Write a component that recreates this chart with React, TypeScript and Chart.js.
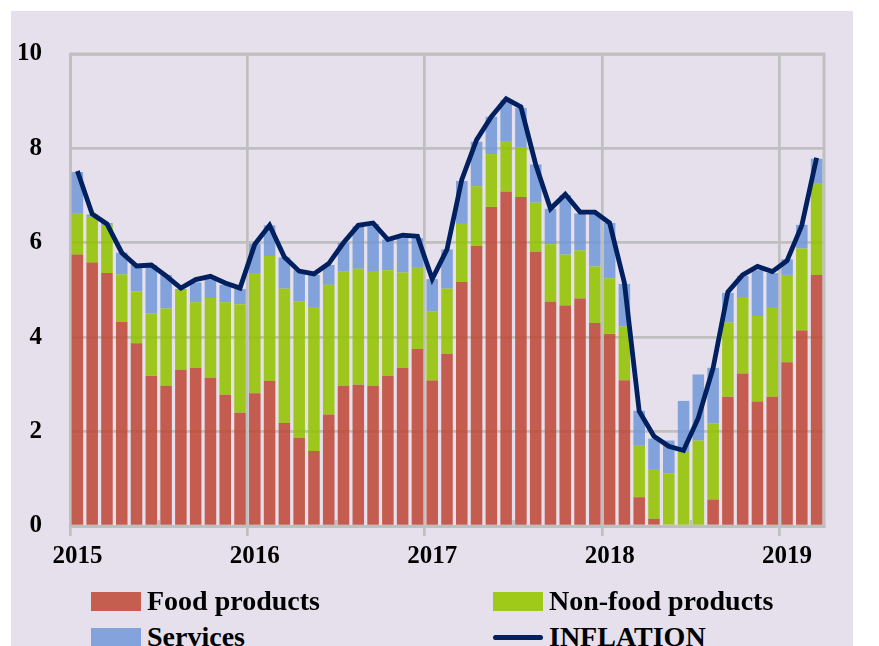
import React, { useEffect, useRef } from 'react';
import { Chart, registerables } from 'chart.js';

Chart.register(...registerables);

const months = [
  '2015-01','2015-02','2015-03','2015-04','2015-05','2015-06','2015-07','2015-08','2015-09','2015-10','2015-11','2015-12',
  '2016-01','2016-02','2016-03','2016-04','2016-05','2016-06','2016-07','2016-08','2016-09','2016-10','2016-11','2016-12',
  '2017-01','2017-02','2017-03','2017-04','2017-05','2017-06','2017-07','2017-08','2017-09','2017-10','2017-11','2017-12',
  '2018-01','2018-02','2018-03','2018-04','2018-05','2018-06','2018-07','2018-08','2018-09','2018-10','2018-11','2018-12',
  '2019-01','2019-02','2019-03',
];

const food = [
  5.75, 5.58, 5.36, 4.32, 3.87, 3.18, 2.97, 3.31, 3.35, 3.14, 2.78, 2.40,
  2.81, 3.07, 2.18, 1.87, 1.59, 2.36, 2.97, 2.99, 2.97, 3.18, 3.35, 3.75,
  3.08, 3.65, 5.17, 5.93, 6.76, 7.08, 6.97, 5.81, 4.75, 4.67, 4.82, 4.30,
  4.07, 3.09, 0.61, 0.15, -0.07, -0.07, -0.05, 0.56, 2.74, 3.23, 2.64, 2.74,
  3.47, 4.14, 5.32,
];

const nonFood = [
  0.88, 0.97, 1.02, 1.01, 1.10, 1.32, 1.64, 1.69, 1.39, 1.69, 1.96, 2.30,
  2.55, 2.65, 2.85, 2.89, 3.05, 2.75, 2.42, 2.46, 2.43, 2.24, 2.02, 1.72,
  1.47, 1.38, 1.23, 1.27, 1.12, 1.06, 1.05, 1.04, 1.22, 1.08, 1.02, 1.20,
  1.18, 1.14, 1.09, 1.04, 1.12, 1.57, 1.81, 1.61, 1.57, 1.62, 1.81, 1.88,
  1.85, 1.74, 1.93,
];

const services = [
  0.87, 0.05, 0.04, 0.46, 0.56, 1.03, 0.71, 0.02, 0.42, 0.40, 0.37, 0.32,
  0.62, 0.65, 0.66, 0.66, 0.68, 0.42, 0.61, 0.90, 1.00, 0.65, 0.79, 0.63,
  0.68, 0.83, 0.91, 0.94, 0.79, 0.88, 0.84, 0.81, 0.75, 1.26, 0.78, 1.11,
  1.17, 0.90, 0.74, 0.66, 0.69, 1.08, 1.40, 1.18, 0.63, 0.45, 0.97, 0.74,
  0.33, 0.50, 0.53,
];

const inflation = [
  7.52, 6.61, 6.40, 5.79, 5.51, 5.53, 5.30, 5.04, 5.22, 5.29, 5.15, 5.04,
  5.97, 6.37, 5.70, 5.40, 5.34, 5.56, 6.00, 6.37, 6.42, 6.07, 6.16, 6.14,
  5.23, 5.86, 7.34, 8.18, 8.67, 9.05, 8.88, 7.66, 6.72, 7.03, 6.65, 6.65,
  6.42, 5.15, 2.43, 1.90, 1.69, 1.60, 2.29, 3.35, 4.96, 5.32, 5.50, 5.39,
  5.62, 6.37, 7.80,
];

const yearLabels = ['2015', '2016', '2017', '2018', '2019'];
const seriesLabels = ['Food products', 'Non-food products', 'Services', 'INFLATION'];

const GRID = '#bfbfbf';
const BG = '#e5e0ec';
const RED_BAR = 'rgba(191,74,57,0.88)';
const GREEN_BAR = 'rgba(147,195,0,0.88)';
const BLUE_BAR = 'rgba(115,152,215,0.88)';
const RED = '#c65e4f';
const GREEN = '#9fca1a';
const BLUE = '#84a3dc';
const NAVY = '#002060';
const FONT = '"Liberation Serif", "Times New Roman", serif';

const framePlugin = {
  id: 'frame',
  beforeDatasetsDraw(chart: any) {
    const { ctx, chartArea, scales } = chart;
    ctx.save();
    ctx.strokeStyle = GRID;
    ctx.lineWidth = 3;
    ctx.beginPath();
    ctx.moveTo(chartArea.left, chartArea.top);
    ctx.lineTo(chartArea.right, chartArea.top);
    ctx.lineTo(chartArea.right, chartArea.bottom);
    ctx.stroke();
    // mid-year minor ticks (upward from axis)
    const xs = scales.x;
    ctx.lineWidth = 2.5;
    for (let i = 6; i < months.length; i += 12) {
      const x = (xs.getPixelForValue(i - 1) + xs.getPixelForValue(i)) / 2;
      ctx.beginPath();
      ctx.moveTo(x, chartArea.bottom);
      ctx.lineTo(x, chartArea.bottom - 6);
      ctx.stroke();
    }
    ctx.restore();
  },
};

export default function App() {
  const canvasRef = useRef<HTMLCanvasElement | null>(null);

  useEffect(() => {
    const canvas = canvasRef.current;
    if (!canvas) return;
    const chart = new Chart(canvas, {
      type: 'bar',
      data: {
        labels: months,
        datasets: [
          {
            type: 'line',
            label: seriesLabels[3],
            data: inflation,
            borderColor: NAVY,
            backgroundColor: NAVY,
            borderWidth: 4.8,
            pointRadius: 0,
            tension: 0,
            stack: 'line',
            order: 0,
          } as any,
          {
            label: seriesLabels[0],
            data: food,
            backgroundColor: RED_BAR,
            stack: 'bars',
            order: 1,
            barPercentage: 0.78,
            categoryPercentage: 1,
          },
          {
            label: seriesLabels[1],
            data: nonFood,
            backgroundColor: GREEN_BAR,
            stack: 'bars',
            order: 1,
            barPercentage: 0.78,
            categoryPercentage: 1,
          },
          {
            label: seriesLabels[2],
            data: services,
            backgroundColor: BLUE_BAR,
            stack: 'bars',
            order: 1,
            barPercentage: 0.78,
            categoryPercentage: 1,
          },
        ],
      },
      options: {
        responsive: false,
        animation: false,
        layout: { padding: { top: 39, right: 29, bottom: 15, left: 0 } },
        plugins: {
          legend: { display: false },
          tooltip: { enabled: false },
        },
        scales: {
          x: {
            stacked: true,
            offset: true,
            grid: {
              offset: true,
              lineWidth: 2.7,
              tickLength: 10,
              color: (ctx: any) =>
                ctx.type === 'tick' && ctx.index % 12 === 0 ? GRID : 'rgba(0,0,0,0)',
              tickColor: (ctx: any) =>
                ctx.type === 'tick' && ctx.index % 12 === 0 ? GRID : 'rgba(0,0,0,0)',
            },
            border: { display: true, color: GRID, width: 3 },
            ticks: {
              autoSkip: false,
              maxRotation: 0,
              minRotation: 0,
              padding: 6,
              color: '#000',
              font: { family: FONT, weight: 'bold', size: 25 },
              callback: (_v: any, index: number) =>
                index % 12 === 0 ? yearLabels[index / 12] : '',
            },
            afterFit: (scale: any) => {
              scale.height = 50;
            },
          },
          y: {
            stacked: true,
            min: 0,
            max: 10,
            grid: {
              color: GRID,
              lineWidth: 2.7,
              drawTicks: false,
            },
            border: { display: true, color: GRID, width: 3 },
            ticks: {
              stepSize: 2,
              padding: 28,
              color: '#000',
              font: { family: FONT, weight: 'bold', size: 25 },
            },
            afterFit: (scale: any) => {
              scale.width = 59;
            },
          },
        },
      },
      plugins: [framePlugin],
    });
    return () => chart.destroy();
  }, []);

  const legendItems = [
    { label: seriesLabels[0], color: RED, kind: 'box', col: 0, row: 0 },
    { label: seriesLabels[1], color: GREEN, kind: 'box', col: 1, row: 0 },
    { label: seriesLabels[2], color: BLUE, kind: 'box', col: 0, row: 1 },
    { label: seriesLabels[3], color: NAVY, kind: 'line', col: 1, row: 1 },
  ];

  return (
    <div
      style={{
        position: 'relative',
        width: 842,
        height: 640,
        marginLeft: 3,
        marginTop: 3,
        background: BG,
        overflow: 'hidden',
      }}
    >
      <canvas
        ref={canvasRef}
        width={842}
        height={580}
        style={{ position: 'absolute', left: 0, top: 0, width: 842, height: 580 }}
      />
      {legendItems.map((it) => (
        <div
          key={it.label}
          style={{
            position: 'absolute',
            left: it.col === 0 ? 80 : 482,
            top: it.row === 0 ? 574 : 610,
            height: 32,
            display: 'flex',
            alignItems: 'center',
            fontFamily: FONT,
            fontWeight: 'bold',
            fontSize: 28,
            color: '#000',
            whiteSpace: 'nowrap',
          }}
        >
          <div
            style={{
              width: 50,
              height: it.kind === 'box' ? 19 : 5,
              borderRadius: it.kind === 'box' ? 0 : 3,
              background: it.color,
              marginRight: 6,
            }}
          />
          <span>{it.label}</span>
        </div>
      ))}
    </div>
  );
}
